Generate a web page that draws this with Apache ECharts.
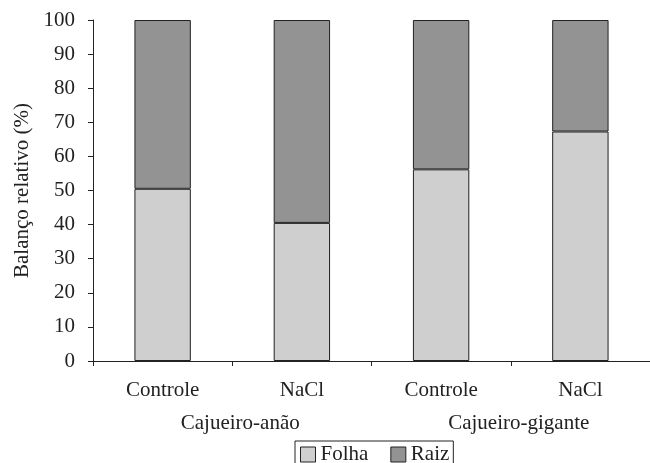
<!DOCTYPE html>
<html>
<head>
<meta charset="utf-8">
<script src="https://cdn.jsdelivr.net/npm/echarts@6/dist/echarts.min.js"></script>
<style>
  html, body { margin: 0; padding: 0; background: #fff; }
  #main { width: 650px; height: 463px; }
</style>
</head>
<body>
<div id="main"></div>
<script>
// dados do gráfico
var categorias = ['Controle', 'NaCl', 'Controle', 'NaCl'];
var grupos = ['Cajueiro-anão', 'Cajueiro-gigante'];
var folha = [50.5, 40.5, 56.2, 67.3];
var raiz = [49.5, 59.5, 43.8, 32.7];

var fonte = 'Liberation Serif';
var corTexto = '#222';

var myChart = echarts.init(document.getElementById('main'));
var option = {
	animation: false,
	grid: { left: 93, right: -3, top: 20, bottom: 102 },
	legend: {
		data: ['Folha', 'Raiz'],
		left: 295,
		top: 441,
		itemWidth: 15,
		itemHeight: 15,
		itemGap: 22,
		padding: [3, 4, 8, 5],
		borderColor: '#222',
		borderWidth: 1,
		icon: 'rect',
		itemStyle: { borderColor: '#222', borderWidth: 1 },
		textStyle: { fontFamily: fonte, fontSize: 21, color: corTexto }
	},
	xAxis: [
		{
			type: 'category',
			data: categorias,
			axisLine: { lineStyle: { color: '#222', width: 1 } },
			axisTick: { show: true, length: 5, lineStyle: { color: '#222' } },
			axisLabel: { margin: 19, fontFamily: fonte, fontSize: 21, color: corTexto }
		},
		{
			type: 'category',
			data: grupos,
			position: 'bottom',
			offset: 32,
			axisLine: { show: false },
			axisTick: { show: false },
			axisLabel: { margin: 20, fontFamily: fonte, fontSize: 21, color: corTexto, padding: [0, 0, 0, 16] }
		}
	],
	yAxis: {
		type: 'value',
		min: 0,
		max: 100,
		interval: 10,
		name: 'Balanço relativo (%)',
		nameLocation: 'middle',
		nameGap: 57,
		nameTextStyle: { fontFamily: fonte, fontSize: 21, color: corTexto },
		axisLine: { show: true, lineStyle: { color: '#222', width: 1 } },
		axisTick: { show: true, length: 5, lineStyle: { color: '#222' } },
		splitLine: { show: false },
		axisLabel: { margin: 18, fontFamily: fonte, fontSize: 21, color: corTexto }
	},
	series: [
		{
			name: 'Folha',
			type: 'bar',
			stack: 'total',
			barWidth: '40.5%',
			xAxisIndex: 0,
			data: folha,
			itemStyle: { color: '#cfcfcf', borderColor: '#222', borderWidth: 1 }
		},
		{
			name: 'Raiz',
			type: 'bar',
			stack: 'total',
			barWidth: '40.5%',
			xAxisIndex: 0,
			data: raiz,
			itemStyle: { color: '#939393', borderColor: '#222', borderWidth: 1 }
		}
	]
};
myChart.setOption(option);
</script>
</body>
</html>
